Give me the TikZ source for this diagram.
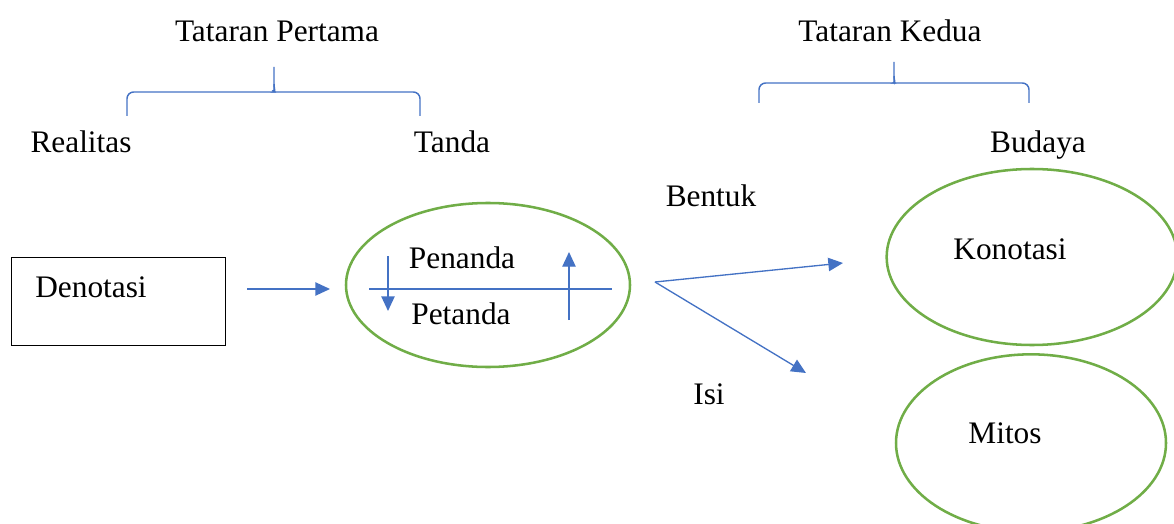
\documentclass[tikz,border=0pt]{standalone}
\usepackage{fontspec}
\setmainfont{Liberation Serif}
\usetikzlibrary{arrows.meta,shapes.geometric}

\definecolor{linkblue}{HTML}{4472C4}
\definecolor{ovalgreen}{HTML}{70AD47}

\newcommand{\wrd}{\node[font=\fontsize{23.5}{28}\selectfont, inner sep=0pt, anchor=base]}
\newcommand{\ovl}{\node[ellipse, draw=ovalgreen, line width=1.9pt, inner sep=0pt]}

\tikzset{
    flow/.style={linkblue, line width=1pt, -{Triangle[length=11pt,width=10pt]}},
    brace/.style={linkblue, line width=1.1pt, rounded corners=5},
}

\begin{document}
\begin{tikzpicture}[x=0.75pt, y=-0.75pt]
            \useasboundingbox (0,0) rectangle (1174,524);
            \clip (0,0) rectangle (1174,524);

            % levels
            \wrd (pertama) at (277,42) {Tataran Pertama};
            \wrd (kedua) at (890,42) {Tataran Kedua};
            \draw[brace] (127,116) -- (127,92) -- (268,92) .. controls (272,92) and (274,89) .. (274,84) -- (274,67);
            \draw[brace] (420,116) -- (420,92) -- (280,92) .. controls (276,92) and (274,89) .. (274,84);
            \draw[brace] (759,103) -- (759,83) -- (888,83) .. controls (892,83) and (894,80) .. (894,76) -- (894,62);
            \draw[brace] (1029,103) -- (1029,83) -- (900,83) .. controls (896,83) and (894,80) .. (894,76);

            \wrd (realitas) at (81,153) {Realitas};
            \wrd (tandalbl) at (452,153) {Tanda};
            \wrd (budaya) at (1038,153) {Budaya};

            % shapes
            \node[draw, line width=0.75pt, minimum width=160.5pt, minimum height=66pt, inner sep=0pt] (denotasi) at (118,301) {};
            \wrd (dentext) at (91,297) {Denotasi};
            \ovl[minimum width=213pt, minimum height=123pt] (tanda) at (488,285) {};
            \wrd (penanda) at (462,268) {Penanda};
            \wrd (petanda) at (461,324) {Petanda};
            \ovl[minimum width=218pt, minimum height=132pt] (konotasi) at (1032,257) {};
            \wrd (kontext) at (1010,259) {Konotasi};
            \ovl[minimum width=202.5pt, minimum height=133pt] (mitos) at (1031,443) {};
            \wrd (mitext) at (1005,443) {Mitos};

            \wrd (bentuk) at (711,206) {Bentuk};
            \wrd (isi) at (709,404) {Isi};

            \coordinate (denout) at (247,289);
            \coordinate (tandain) at (330,289);
            \coordinate (barleft) at (369,289);
            \coordinate (barright) at (612,289);
            \coordinate (downtop) at (388,256);
            \coordinate (downtip) at (388,311);
            \coordinate (uptail) at (569,320);
            \coordinate (uptip) at (569,252);
            \coordinate (fork) at (655,282);
            \coordinate (bentukend) at (843,263);
            \coordinate (isiend) at (806,373);

            \draw[linkblue, line width=0.8pt]
                (barleft) -- (barright);

            \draw[flow]
                (denout) -- (tandain);
            \draw[flow]
                (downtop) -- (downtip);
            \draw[flow]
                (uptail) -- (uptip);
            \draw[flow]
                (fork) -- (bentukend);
            \draw[flow]
                (fork) -- (isiend);

\end{tikzpicture}
\end{document}
